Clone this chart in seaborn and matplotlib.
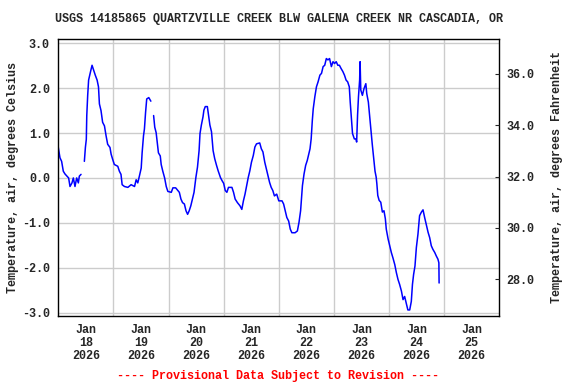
import numpy as np
import pandas as pd
import matplotlib
matplotlib.use("Agg")
import matplotlib.pyplot as plt
import seaborn as sns

# hours since 2026-01-18 00:00, NaN marks a gap in the record
hours = [
    0, 0.73, 1.45, 2.18, 2.9, 3.78, 4.5, 5.1, 5.96, 6.55, 7.27, 8.0, 8.73, 9.16, 9.9,
    10.6,
    11.35, 11.8, 12.2, 12.4, 12.8, 13.2, 14.0, 14.7, 15.4, 16.1, 16.9, 17.5, 17.9, 18.6,
    19.3, 20.1, 20.8, 21.5, 22.5, 23.0, 23.7, 24.4, 25.9, 26.6, 27.3, 27.8, 28.8, 30.3,
    31.7, 33.2, 33.9, 34.6, 35.3, 36.1, 36.5, 37.1, 37.5, 38.0, 38.5, 39.4, 40.3,
    40.9,
    41.5, 42.0, 42.6, 43.1, 43.6, 44.4, 44.8, 45.5, 46.3, 47.0, 47.7, 49.2, 49.9, 51.1,
    52.7, 53.4, 54.1, 54.9, 55.6, 56.3, 57.0, 57.7, 58.4, 59.1, 59.9, 60.6, 61.3, 61.7,
    62.3, 63.0, 63.4, 64.0, 64.9, 65.4, 66.0, 66.7, 67.4, 68.1, 68.9, 69.6, 70.6, 71.3,
    72.0, 72.7, 73.4, 74.1, 75.6, 76.3, 77.0, 78.0, 79.1, 79.9, 80.6, 81.3, 82.0, 82.7,
    83.4, 84.1, 84.9, 85.6, 86.3, 87.7, 88.4, 89.1, 89.9, 90.6, 91.3, 92.0, 92.7, 93.4,
    94.1, 95.1, 96.0, 97.4, 98.1, 98.8, 99.5, 100.3, 101.0, 101.7, 103.1, 104.1, 104.8,
    105.5, 106.3, 107.0, 107.7, 108.4, 109.1, 109.6, 110.1, 110.6, 111.0, 111.7, 112.4,
    113.1, 113.9, 114.6, 115.3, 116.0, 116.7, 117.4, 118.1, 118.9, 119.6, 120.3, 121.0,
    121.7, 122.4, 123.1, 123.9, 124.6, 125.3, 126.0, 126.7, 127.1, 127.7, 128.1, 128.9,
    129.6, 129.9, 130.3, 130.7, 131.2, 131.4, 131.7, 132.4, 133.1, 133.9, 134.3, 135.0,
    135.6, 136.1, 136.7, 137.4, 137.9, 138.4, 138.7, 139.1, 139.7, 140.4, 141.1, 141.8,
    142.4, 142.8, 143.6, 144.3, 145.0, 145.7, 146.5, 147.2, 147.9, 148.6, 149.4, 150.1,
    150.8, 151.5, 152.2, 153.0, 153.7, 154.2, 154.7, 155.3, 155.9, 156.6, 157.3, 158.1,
    158.8, 159.5, 160.2, 161.0, 161.7, 162.4, 163.1, 163.9, 164.6, 165.3, 165.7, 165.8,
]
temp_c = [
    0.68, 0.45, 0.37, 0.15, 0.09, 0.04, 0.0, -0.19, -0.11, 0.0, -0.19, 0.0, -0.11, 0.04, 0.08,
    np.nan,
    0.37, 0.68, 0.86, 1.39, 1.84, 2.18, 2.36, 2.51, 2.4, 2.29, 2.18, 2.03, 1.65, 1.5,
    1.24, 1.16, 0.94, 0.75, 0.68, 0.53, 0.41, 0.3, 0.26, 0.15, 0.08, -0.15, -0.19, -0.21,
    -0.15, -0.19, -0.04, -0.11, 0.04, 0.22, 0.56, 0.94, 1.09, 1.46, 1.76, 1.79, 1.71,
    np.nan,
    1.39, 1.13, 1.01, 0.79, 0.56, 0.49, 0.3, 0.15, 0.0, -0.19, -0.3, -0.32, -0.22, -0.22,
    -0.32, -0.47, -0.55, -0.58, -0.73, -0.81, -0.73, -0.62, -0.47, -0.32, 0.01, 0.24, 0.61, 0.99,
    1.18, 1.36, 1.51, 1.59, 1.59, 1.4, 1.18, 1.03, 0.61, 0.43, 0.28, 0.16, 0.01, -0.06,
    -0.12, -0.28, -0.32, -0.21, -0.21, -0.32, -0.47, -0.55, -0.62, -0.7, -0.51, -0.36, -0.17, 0.01,
    0.16, 0.35, 0.5, 0.69, 0.76, 0.78, 0.65, 0.58, 0.35, 0.2, 0.05, -0.1, -0.21, -0.28,
    -0.4, -0.36, -0.51, -0.51, -0.58, -0.73, -0.88, -0.96, -1.14, -1.22, -1.22, -1.18, -0.99,
    -0.73, -0.17, 0.09, 0.28, 0.39, 0.54, 0.65, 0.87, 1.28, 1.54, 1.81, 2.03,
    2.14, 2.29, 2.33, 2.48, 2.51, 2.66, 2.63, 2.66, 2.48, 2.59, 2.55, 2.59,
    2.51, 2.51, 2.44, 2.37, 2.29, 2.18, 2.14, 2.03, 1.69, 1.28, 0.99, 0.87,
    0.87, 0.8, 1.4, 1.81, 2.18, 2.59, 1.96, 1.84, 1.99, 2.1, 1.88, 1.69,
    1.36, 1.1, 0.75, 0.4, 0.15, 0.02, -0.13, -0.39, -0.5, -0.54, -0.76, -0.73,
    -0.91, -1.14, -1.36, -1.51, -1.66, -1.78, -1.93, -2.11, -2.26, -2.37, -2.52, -2.71,
    -2.64, -2.79, -2.94, -2.94, -2.75, -2.37, -2.15, -1.96, -1.55, -1.25, -0.84, -0.76,
    -0.71, -0.88, -1.03, -1.21, -1.33, -1.51, -1.59, -1.66, -1.74, -1.81, -1.89, -2.34,
]

day_labels = ["Jan\n18\n2026", "Jan\n19\n2026", "Jan\n20\n2026", "Jan\n21\n2026",
              "Jan\n22\n2026", "Jan\n23\n2026", "Jan\n24\n2026", "Jan\n25\n2026"]
f_ticks = [28, 30, 32, 34, 36]

start = pd.Timestamp("2026-01-18")
df = pd.DataFrame({"time": start + pd.to_timedelta(hours, unit="h"), "temp": temp_c})
df["seg"] = df["temp"].isna().cumsum()
df = df.dropna()

sns.set_style("white")
plt.rcParams["font.family"] = ["Liberation Mono", "DejaVu Sans Mono"]
plt.rcParams["font.weight"] = "bold"

fig = plt.figure(figsize=(5.76, 3.84), dpi=100)
ax = fig.add_axes([0.1012, 0.178, 0.7656, 0.7197])

sns.lineplot(data=df, x="time", y="temp", units="seg", estimator=None,
             color="#0000ff", linewidth=1.1, ax=ax)

ax.set_xlim(start, start + pd.Timedelta(days=8))
ax.set_ylim(-3.067, 3.089)

noon = [start + pd.Timedelta(hours=12 + 24 * i) for i in range(8)]
midnight = [start + pd.Timedelta(days=i) for i in range(1, 8)]
ax.set_xticks(noon)
ax.set_xticklabels(day_labels, fontsize=8.5, fontweight="bold", linespacing=1.1)
ax.set_xticks(midnight, minor=True)
ax.set_yticks(np.arange(-3, 3.1, 1.0))
ax.set_yticklabels([f"{v:.1f}" for v in np.arange(-3, 3.1, 1.0)], fontsize=8.5, fontweight="bold")
ax.tick_params(axis="both", which="both", length=0, pad=6)
ax.grid(False)
ax.grid(axis="x", which="minor", color="#cccccc", linewidth=1)
ax.grid(axis="y", which="major", color="#cccccc", linewidth=1)
ax.set_xlabel("")
ax.set_ylabel("Temperature, air, degrees Celsius", fontsize=8.5, fontweight="bold",
              labelpad=2)
for s in ax.spines.values():
    s.set_color("black")
    s.set_linewidth(1.0)

ax2 = ax.twinx()
ax2.set_ylim(26.58, 37.35)
ax2.set_yticks(f_ticks)
ax2.set_yticklabels([f"{v:.1f}" for v in f_ticks], fontsize=8.5, fontweight="bold")
ax2.tick_params(axis="y", direction="in", length=3, pad=5)
ax2.set_ylabel("Temperature, air, degrees Fahrenheit", fontsize=8.5, fontweight="bold",
               labelpad=12)
for s in ax2.spines.values():
    s.set_visible(False)

fig.text(0.484, 0.95, "USGS 14185865 QUARTZVILLE CREEK BLW GALENA CREEK NR CASCADIA, OR",
         ha="center", va="center", fontsize=8.5, fontweight="bold")
fig.text(0.483, 0.022, "---- Provisional Data Subject to Revision ----",
         ha="center", va="center", fontsize=8.5, fontweight="bold", color="#ff0000")

fig.savefig("out.png", dpi=100)
